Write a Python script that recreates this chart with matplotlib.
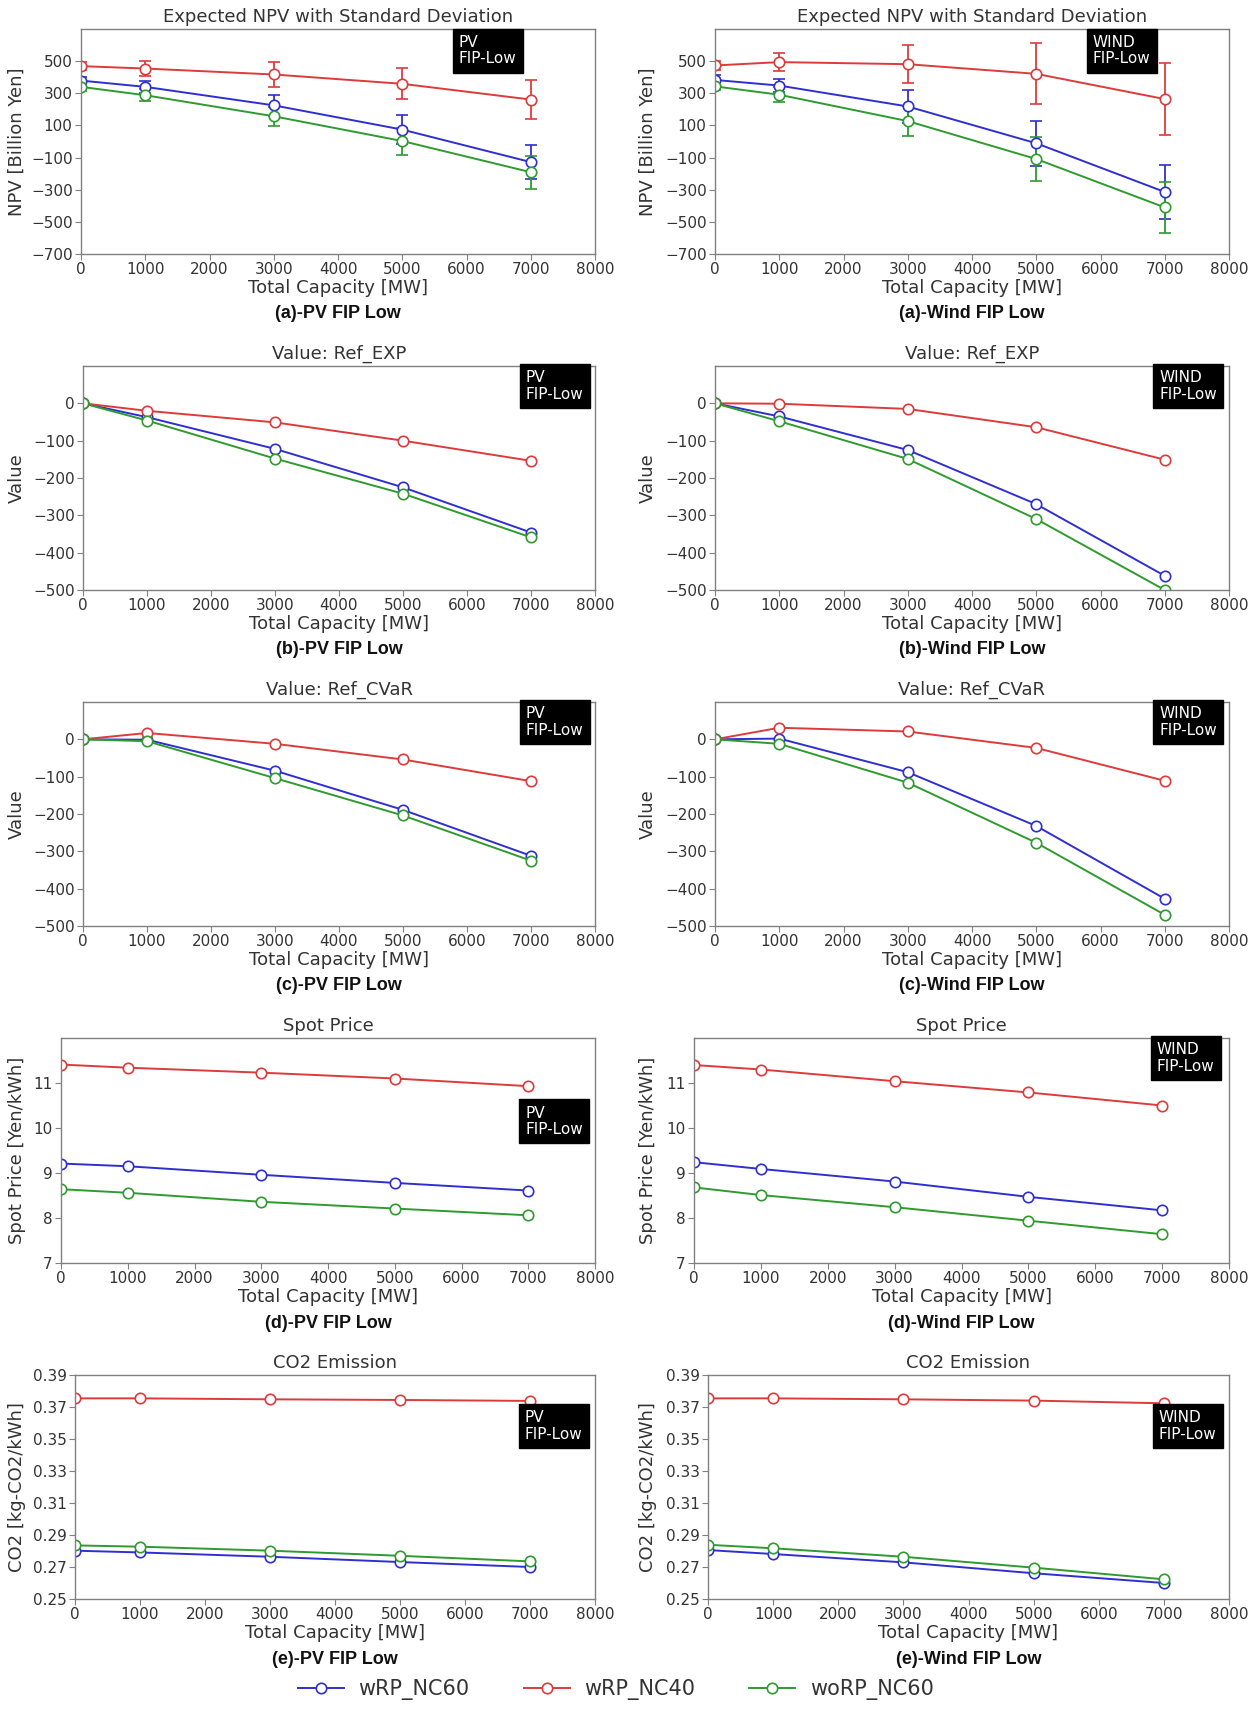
import numpy as np
import matplotlib
matplotlib.use("Agg")
import matplotlib.pyplot as plt

plt.rcParams['font.family'] = ['DejaVu Sans']

# ---- data ----
cap = [0, 1000, 3000, 5000, 7000]
series = ["wRP_NC60", "wRP_NC40", "woRP_NC60"]
colors = ["#2f2fd0", "#dd3b3b", "#2f9a2f"]

# Expected NPV [Billion Yen] and standard deviation
npv_pv = {"wRP_NC60": [379, 340, 225, 74, -128],
          "wRP_NC40": [469, 454, 417, 359, 261],
          "woRP_NC60": [340, 288, 157, 3, -191]}
npv_pv_sd = {"wRP_NC60": [25, 39, 67, 89, 107],
             "wRP_NC40": [27, 49, 79, 96, 123],
             "woRP_NC60": [25, 38, 58, 84, 103]}
npv_w = {"wRP_NC60": [383, 348, 218, -11, -314],
         "wRP_NC40": [473, 494, 481, 421, 264],
         "woRP_NC60": [343, 291, 127, -109, -410]}
npv_w_sd = {"wRP_NC60": [30, 40, 102, 139, 169],
            "wRP_NC40": [25, 57, 118, 190, 222],
            "woRP_NC60": [25, 48, 94, 134, 160]}

# Ref_EXP
exp_pv = {"wRP_NC60": [0, -37, -122, -225, -346],
          "wRP_NC40": [0, -20, -51, -100, -154],
          "woRP_NC60": [0, -46, -148, -242, -359]}
exp_w = {"wRP_NC60": [0, -35, -125, -270, -462],
         "wRP_NC40": [0, -1, -15, -64, -151],
         "woRP_NC60": [0, -48, -149, -310, -500]}

# Ref_CVaR
cvar_pv = {"wRP_NC60": [0, -1, -84, -189, -312],
           "wRP_NC40": [0, 17, -12, -54, -112],
           "woRP_NC60": [0, -5, -104, -204, -325]}
cvar_w = {"wRP_NC60": [0, 2, -88, -232, -427],
          "wRP_NC40": [0, 31, 21, -23, -111],
          "woRP_NC60": [0, -12, -116, -277, -470]}

# Spot price [Yen/kWh]
spot_pv = {"wRP_NC60": [9.21, 9.15, 8.96, 8.78, 8.61],
           "wRP_NC40": [11.41, 11.34, 11.23, 11.10, 10.93],
           "woRP_NC60": [8.64, 8.56, 8.36, 8.21, 8.06]}
spot_w = {"wRP_NC60": [9.24, 9.09, 8.81, 8.47, 8.17],
          "wRP_NC40": [11.40, 11.30, 11.04, 10.79, 10.50],
          "woRP_NC60": [8.68, 8.51, 8.24, 7.94, 7.64]}

# CO2 [kg-CO2/kWh]
co2_pv = {"wRP_NC60": [0.2802, 0.2791, 0.2764, 0.2731, 0.2700],
          "wRP_NC40": [0.3754, 0.3754, 0.3748, 0.3744, 0.3738],
          "woRP_NC60": [0.2835, 0.2827, 0.2802, 0.2770, 0.2735]}
co2_w = {"wRP_NC60": [0.2806, 0.2781, 0.2729, 0.2661, 0.2600],
         "wRP_NC40": [0.3754, 0.3754, 0.3748, 0.3740, 0.3723],
         "woRP_NC60": [0.2839, 0.2817, 0.2764, 0.2696, 0.2623]}

xticks = [0, 1000, 2000, 3000, 4000, 5000, 6000, 7000, 8000]
npv_ticks = [-700, -500, -300, -100, 100, 300, 500]
val_ticks = [-500, -400, -300, -200, -100, 0]
spot_ticks = [7, 8, 9, 10, 11]
co2_ticks = [0.25, 0.27, 0.29, 0.31, 0.33, 0.35, 0.37, 0.39]
co2_labels = ["0.25", "0.27", "0.29", "0.31", "0.33", "0.35", "0.37", "0.39"]

W, H = 1259, 1711
fig = plt.figure(figsize=(W / 100, H / 100), dpi=100)

# pixel boxes: (left, top, right, bottom)
tops = [29, 366, 702, 1038, 1375]
bots = [254, 590, 926, 1263, 1599]
pv_left = [81, 83, 83, 61, 75]
w_left = [715, 715, 715, 694, 708]
pv_right, w_right = 595, 1229

grey = "#808080"
txt = "#333333"


def make_ax(left, top, right, bottom):
    ax = fig.add_axes([left / W, 1 - bottom / H, (right - left) / W, (bottom - top) / H])
    for s in ax.spines.values():
        s.set_color(grey)
        s.set_linewidth(1.0)
    ax.tick_params(colors=grey, labelcolor=txt, labelsize=11, length=4, pad=2)
    ax.set_xlim(0, 8000)
    ax.set_xticks(xticks)
    ax.set_xlabel("Total Capacity [MW]", fontsize=13, color=txt, labelpad=1)
    return ax


def draw_lines(ax, data, sd=None):
    for name, c in zip(series, colors):
        if sd is None:
            ax.plot(cap, data[name], color=c, lw=1.4, marker="o", ms=7.5,
                    mfc="white", mec=c, mew=1.2, label=name)
        else:
            ax.errorbar(cap, data[name], yerr=sd[name], color=c, lw=1.4, marker="o",
                        ms=7.5, mfc="white", mec=c, mew=1.2, capsize=4, elinewidth=1.3,
                        label=name)


def tag(ax, text, x, y):
    ax.text(x, y, text, transform=ax.transAxes, ha="left", va="top", color="white",
            fontsize=11, linespacing=1.15,
            bbox=dict(facecolor="black", edgecolor="black", boxstyle="square,pad=0.4"))


def ylab(ax, text, left, xc):
    ax.set_ylabel(text, fontsize=13, color=txt)
    width = pv_right - left if left < 600 else w_right - left
    ax.yaxis.set_label_coords((xc + 9 - left) / width, 0.5)


panels = [
    ("Expected NPV with Standard Deviation", npv_pv, npv_pv_sd, npv_w, npv_w_sd,
     "NPV [Billion Yen]", (-700, 700), npv_ticks, None, "a"),
    ("Value: Ref_EXP", exp_pv, None, exp_w, None, "Value", (-500, 100), val_ticks, None, "b"),
    ("Value: Ref_CVaR", cvar_pv, None, cvar_w, None, "Value", (-500, 100), val_ticks, None, "c"),
    ("Spot Price", spot_pv, None, spot_w, None, "Spot Price [Yen/kWh]", (7, 12), spot_ticks, None, "d"),
    ("CO2 Emission", co2_pv, None, co2_w, None, "CO2 [kg-CO2/kWh]", (0.25, 0.39), co2_ticks,
     co2_labels, "e"),
]

# tag positions (axes fraction) for PV / WIND boxes per row
tag_pos_pv = [(0.735, 0.975), (0.865, 0.98), (0.865, 0.98), (0.87, 0.70), (0.865, 0.845)]
tag_pos_w = [(0.735, 0.975), (0.865, 0.98), (0.865, 0.98), (0.865, 0.98), (0.865, 0.845)]

for i, (title, dpv, spv, dw, sw, ylabel, ylim, yt, ytl, letter) in enumerate(panels):
    for side in ("PV", "Wind"):
        if side == "PV":
            ax = make_ax(pv_left[i], tops[i], pv_right, bots[i])
            draw_lines(ax, dpv, spv)
            tag(ax, "PV\nFIP-Low", *tag_pos_pv[i])
            ylab(ax, ylabel, pv_left[i], 17)
            cx = (pv_left[i] + pv_right) / 2
        else:
            ax = make_ax(w_left[i], tops[i], w_right, bots[i])
            draw_lines(ax, dw, sw)
            tag(ax, "WIND\nFIP-Low", *tag_pos_w[i])
            ylab(ax, ylabel, w_left[i], 648)
            cx = (w_left[i] + w_right) / 2
        ax.set_ylim(*ylim)
        ax.set_yticks(yt)
        if ytl is not None:
            ax.set_yticklabels(ytl)
        ax.set_title(title, fontsize=13, color=txt, pad=5)
        fig.text(cx / W, 1 - (bots[i] + 60) / H, f"({letter})-{side} FIP Low",
                 ha="center", va="center", fontsize=13, fontweight="bold",
                 family="Liberation Sans", color="#111111")

handles = [plt.Line2D([], [], color=c, lw=1.4, marker="o", ms=7.5, mfc="white", mec=c, mew=1.2)
           for c in colors]
fig.legend(handles, series, loc="center", bbox_to_anchor=(616 / W, 1 - 1690 / H), ncol=3,
           frameon=False, fontsize=15, columnspacing=2.6, handlelength=2.2, handletextpad=0.7,
           labelcolor=txt)

fig.savefig("out.png", dpi=100, facecolor="white")
